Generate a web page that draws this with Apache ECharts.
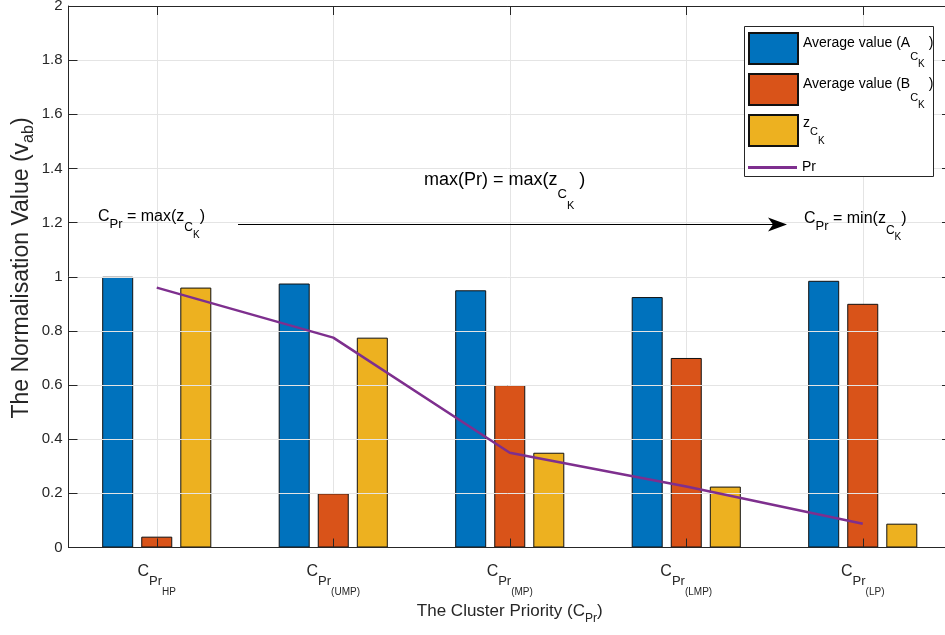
<!DOCTYPE html>
<html>
<head>
<meta charset="utf-8">
<script src="https://cdn.jsdelivr.net/npm/echarts@6/dist/echarts.min.js"></script>
<style>
  html, body { margin: 0; padding: 0; background: #fff; }
  #chart { width: 945px; height: 635px; }
</style>
</head>
<body>
<div id="chart"></div>
<script>
// Cluster priority levels (subscript of C_Pr on the x axis)
const priorities = ['HP', '(UMP)', '(MP)', '(LMP)', '(LP)'];
// Average value (A_CK) per priority level
const avgA = [1.0, 0.975, 0.95, 0.925, 0.985];
// Average value (B_CK) per priority level
const avgB = [0.04, 0.2, 0.6, 0.7, 0.9];
// z_CK per priority level
const zCK = [0.96, 0.775, 0.35, 0.225, 0.088];
// Priority trend Pr
const pr = [0.96, 0.775, 0.35, 0.225, 0.088];
// Series names
const seriesNames = ['Average value (A_CK)', 'Average value (B_CK)', 'z_CK', 'Pr'];
// Helper grid used only for the vertical grid lines through each group centre
const halfSteps = ['0', '1', '2', '3', '4', '5', '6', '7', '8', '9', '10'];

const SANS = '"Liberation Sans", Arial, Helvetica, sans-serif';
const NARROW = '"Liberation Sans Narrow", "Liberation Sans", Arial, sans-serif';
const INK = '#262626';
const GRIDC = '#e4e4e4';

// rich-text token: text is pushed down by `drop` pixels inside a fixed line
function tok(size, drop, lh, family, color) {
  return {
    fontSize: size, fontFamily: family || SANS, color: color || '#000',
    lineHeight: lh, verticalAlign: 'top', padding: [drop, 0, 0, 0]
  };
}
// same token for graphic text elements (zrender naming)
function gtok(size, drop, lh, family) {
  return {
    fontSize: size, fontFamily: family || SANS, fill: '#000',
    lineHeight: lh, verticalAlign: 'top', padding: [drop, 0, 0, 0]
  };
}

const legendLabels = {
  'Average value (A_CK)': '{m|Average value (A}{s|C}{ss|K}{m| )}',
  'Average value (B_CK)': '{m|Average value (B}{s|C}{ss|K}{m| )}',
  'z_CK': '{zm|z}{zs|C}{zss|K}'
};
const legendRich = {
  m: tok(14, 0, 25), s: tok(11, 15, 25), ss: tok(10, 23, 25),
  zm: tok(14, 0, 29), zs: tok(11, 10, 29), zss: tok(10, 20, 29)
};

// one legend box per entry so each row sits on its own line
function legendEntry(name, top) {
  return {
    z: 60, orient: 'vertical', left: 748, top: top, padding: 0,
    itemWidth: 49, itemHeight: 31, icon: 'rect',
    data: [name],
    formatter: n => legendLabels[n],
    textStyle: { color: '#000', rich: legendRich }
  };
}

const chart = echarts.init(document.getElementById('chart'), null, { renderer: 'canvas' });

const option = {
  animation: false,
  backgroundColor: '#fff',
  grid: {
    left: 68.5, width: 882.5, top: 6, bottom: 87.5,
    containLabel: false, outerBoundsMode: 'none'
  },
  xAxis: [
    {
      type: 'category', data: priorities, position: 'bottom', boundaryGap: true, z: 3,
      axisLine: { show: true, lineStyle: { color: INK, width: 1 } },
      axisTick: { show: true, inside: true, length: 9, alignWithLabel: true, lineStyle: { color: INK } },
      splitLine: { show: false },
      axisLabel: {
        interval: 0, margin: 16,
        formatter: v => '{m|C}{s|Pr}{ss|' + v + '}',
        rich: {
          m: tok(16, 0, 16, SANS, INK),
          s: tok(13, 11.5, 16, SANS, INK),
          ss: tok(10, 24, 16, SANS, INK)
        }
      },
      name: '{m|The Cluster Priority (C}{s|Pr}{m|)}',
      nameLocation: 'middle', nameGap: 55,
      nameTextStyle: {
        rich: {
          m: tok(17, 0, 17, SANS, INK),
          s: tok(12, 10.5, 17, SANS, INK)
        }
      }
    },
    {
      type: 'category', data: halfSteps, position: 'bottom', boundaryGap: false, z: 0,
      axisLine: { show: false }, axisTick: { show: false }, axisLabel: { show: false },
      splitLine: { show: true, interval: i => i % 2 === 1, lineStyle: { color: GRIDC, width: 1 } }
    },
    {
      type: 'category', data: priorities, position: 'top', boundaryGap: true, z: 3,
      axisLine: { show: true, lineStyle: { color: INK, width: 1 } },
      axisTick: { show: true, inside: true, length: 9, alignWithLabel: true, lineStyle: { color: INK } },
      axisLabel: { show: false }, splitLine: { show: false }
    }
  ],
  yAxis: [
    {
      type: 'value', min: 0, max: 2, interval: 0.2, position: 'left', z: 3,
      axisLine: { show: true, lineStyle: { color: INK, width: 1 } },
      axisTick: { show: true, inside: true, length: 9, lineStyle: { color: INK } },
      axisLabel: { color: INK, fontSize: 15, fontFamily: SANS, margin: 6, padding: [0, 0, 6, 0] },
      splitLine: { show: true, lineStyle: { color: GRIDC, width: 1 } }
    },
    {
      type: 'value', min: 0, max: 2, interval: 0.2, position: 'right', z: 3,
      axisLine: { show: true, lineStyle: { color: INK, width: 1 } },
      axisTick: { show: true, inside: true, length: 9, lineStyle: { color: INK } },
      axisLabel: { show: false }, splitLine: { show: false }
    }
  ],
  legend: [
    legendEntry(seriesNames[0], 32),
    legendEntry(seriesNames[1], 73),
    legendEntry(seriesNames[2], 114),
    {
      z: 60, orient: 'vertical', left: 748, top: 160.5, padding: 0,
      itemWidth: 49, itemHeight: 3, icon: 'rect',
      data: [seriesNames[3]],
      textStyle: { color: '#000', fontSize: 14, fontFamily: SANS, lineHeight: 3 }
    }
  ],
  series: [
    {
      name: seriesNames[0], type: 'bar', data: avgA, barWidth: 31, barGap: '26%',
      itemStyle: { color: '#0072BD', borderColor: '#111', borderWidth: 1 }
    },
    {
      name: seriesNames[1], type: 'bar', data: avgB, barWidth: 31, barGap: '26%',
      itemStyle: { color: '#D95319', borderColor: '#111', borderWidth: 1 }
    },
    {
      name: seriesNames[2], type: 'bar', data: zCK, barWidth: 31, barGap: '26%',
      itemStyle: { color: '#EDB120', borderColor: '#111', borderWidth: 1 }
    },
    {
      name: seriesNames[3], type: 'line', data: pr, symbol: 'none', z: 4,
      lineStyle: { color: '#7E2F8E', width: 2.5 },
      itemStyle: { color: '#7E2F8E', borderWidth: 0 }
    }
  ],
  graphic: [
    // legend frame
    {
      type: 'rect', z: 50, silent: true,
      shape: { x: 744.5, y: 26.5, width: 189, height: 150 },
      style: { fill: '#fff', stroke: INK, lineWidth: 1 }
    },
    // y-axis title
    {
      type: 'text', z: 60, x: 21, y: 268, rotation: Math.PI / 2,
      style: {
        text: '{m|The Normalisation Value (v}{s|ab}{m|)}',
        align: 'center', verticalAlign: 'middle',
        rich: {
          m: { fontSize: 23, fontFamily: SANS, fill: INK, lineHeight: 22, verticalAlign: 'top', padding: [0, 0, 0, 0] },
          s: { fontSize: 16, fontFamily: SANS, fill: INK, lineHeight: 22, verticalAlign: 'top', padding: [11, 0, 0, 0] }
        }
      }
    },
    // direction arrow
    {
      type: 'line', z: 60,
      shape: { x1: 238, y1: 224.5, x2: 776, y2: 224.5 },
      style: { stroke: '#000', lineWidth: 1.2 }
    },
    {
      type: 'polygon', z: 60,
      shape: { points: [[787, 224.5], [768, 217.5], [773, 224.5], [768, 231.5]] },
      style: { fill: '#000' }
    },
    // annotations
    {
      type: 'text', z: 60, x: 424, y: 171,
      style: {
        text: '{m|max(Pr) = max(z}{s|C}{ss|K}{m| )}',
        rich: { m: gtok(18, 0, 18), s: gtok(13, 17, 18), ss: gtok(11, 29, 18) }
      }
    },
    {
      type: 'text', z: 60, x: 98, y: 208.5,
      style: {
        text: '{m|C}{p|Pr}{m| = max(z}{s|C}{ss|K}{m|)}',
        rich: {
          m: gtok(16, 0, 16, NARROW), p: gtok(13, 9, 16, NARROW),
          s: gtok(12, 13.5, 16, NARROW), ss: gtok(10, 21.5, 16, NARROW)
        }
      }
    },
    {
      type: 'text', z: 60, x: 804, y: 211,
      style: {
        text: '{m|C}{p|Pr}{m| = min(z}{s|C}{ss|K}{m|)}',
        rich: {
          m: gtok(16, 0, 16, NARROW), p: gtok(13, 9, 16, NARROW),
          s: gtok(12, 13.5, 16, NARROW), ss: gtok(10, 21.5, 16, NARROW)
        }
      }
    }
  ]
};

chart.setOption(option);
</script>
</body>
</html>
